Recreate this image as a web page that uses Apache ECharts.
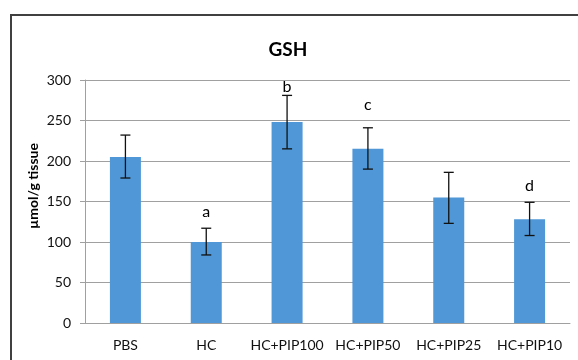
<!DOCTYPE html>
<html><head><meta charset="utf-8">
<script src="https://cdn.jsdelivr.net/npm/echarts@6/dist/echarts.min.js"></script>
<style>html,body{margin:0;padding:0;background:#fff}#c{width:578px;height:360px}</style>
</head><body><div id="c"></div>
<script>
const categories = ['PBS', 'HC', 'HC+PIP100', 'HC+PIP50', 'HC+PIP25', 'HC+PIP10'];
const values = [205, 100, 248, 215, 155, 128];
const errLow = [179, 84, 215, 190, 123, 108];
const errHigh = [232, 117, 281, 241, 186, 149];
const letters = ['', 'a', 'b', 'c', '', 'd'];
const letterY = [0, 137, 292, 269, 0, 169];
const yTicks = [0, 50, 100, 150, 200, 250, 300];

const font = 'Lato, "Open Sans", sans-serif';
const chart = echarts.init(document.getElementById('c'), null, {renderer: 'canvas'});
chart.setOption({
  animation: false,
  title: {text: 'GSH', left: 283, top: 35, textAlign: 'center',
    textStyle: {fontFamily: font, fontSize: 19, fontWeight: 'bold', color: '#000'}},
  graphic: [
    {type: 'rect', shape: {x: 11, y: 15, width: 700, height: 500},
      style: {fill: null, stroke: '#404040', lineWidth: 2}, silent: true},
    {type: 'text', x: 33, y: 186, rotation: Math.PI / 2,
      style: {text: 'µmol/g tissue', fontFamily: font, fontSize: 14, fontWeight: 'bold',
        fill: '#000', align: 'center', verticalAlign: 'middle'}, silent: true}
  ],
  grid: {left: 85, right: 8, top: 80, bottom: 37},
  xAxis: {type: 'category', data: categories,
    axisLine: {lineStyle: {color: '#a0a0a0', width: 1}},
    axisTick: {show: false},
    axisLabel: {interval: 0, hideOverlap: false, fontFamily: font, fontSize: 14, color: '#111', margin: 15}},
  yAxis: {type: 'value', min: yTicks[0], max: yTicks[yTicks.length - 1], interval: 50,
    axisLine: {show: true, lineStyle: {color: '#a0a0a0'}},
    axisTick: {show: true, length: 5, lineStyle: {color: '#a0a0a0'}},
    splitLine: {lineStyle: {color: '#a0a0a0', width: 1}},
    axisLabel: {fontFamily: font, fontSize: 14, color: '#111', margin: 14}},
  series: [
    {type: 'bar', data: values, barWidth: 31, itemStyle: {color: '#4f97d6'}, z: 2},
    {type: 'custom', z: 5,
      data: categories.map((c, i) => [i, errLow[i], errHigh[i]]),
      renderItem: function (params, api) {
        const x = api.coord([api.value(0), api.value(1)])[0];
        const lo = api.coord([api.value(0), api.value(1)])[1];
        const hi = api.coord([api.value(0), api.value(2)])[1];
        const cap = 5;
        const st = {stroke: '#111', lineWidth: 1.3};
        return {type: 'group', children: [
          {type: 'line', shape: {x1: x, y1: lo, x2: x, y2: hi}, style: st},
          {type: 'line', shape: {x1: x - cap, y1: lo, x2: x + cap, y2: lo}, style: st},
          {type: 'line', shape: {x1: x - cap, y1: hi, x2: x + cap, y2: hi}, style: st}
        ]};
      }},
    {type: 'custom', z: 6,
      data: categories.map((c, i) => [i, letterY[i], letters[i]]),
      renderItem: function (params, api) {
        const i = params.dataIndex;
        if (!letters[i]) return null;
        const p = api.coord([api.value(0), api.value(1)]);
        return {type: 'text', x: p[0], y: p[1],
          style: {text: letters[i], fontFamily: font, fontSize: 16, fill: '#000',
            align: 'center', verticalAlign: 'middle'}};
      }}
  ]
});
</script></body></html>
